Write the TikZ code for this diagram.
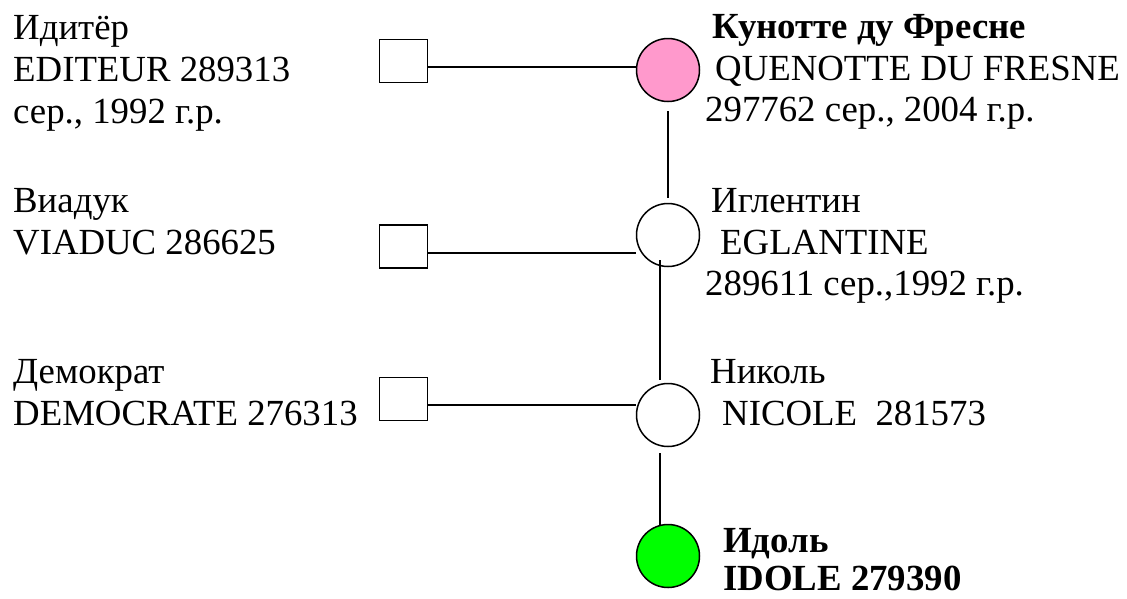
\documentclass[tikz,border=0pt]{standalone}
\usepackage{fontspec}
\setmainfont{Liberation Serif}
\definecolor{pinkfill}{HTML}{FF99CC}
\definecolor{greenfill}{HTML}{00FF00}
\begin{document}
\begin{tikzpicture}[x=1pt,y=-1pt,
  lbl/.style={anchor=base west,inner sep=0pt,font=\fontsize{36.8}{42}\selectfont},
  blbl/.style={lbl,font=\fontsize{36.8}{42}\selectfont\bfseries},
  male/.style={draw,line width=1.5pt,minimum width=48pt,minimum height=43pt,inner sep=0pt},
  female/.style={draw,circle,line width=1.5pt,minimum size=63pt,inner sep=0pt},
  link/.style={line width=1.5pt}]
\useasboundingbox (0,0) rectangle (1127,598);
% squares
\node[male] (s1) at (403.5,61) {};
\node[male] (s2) at (403.5,246.5) {};
\node[male] (s3) at (403.5,399) {};
% circles
\node[female,fill=pinkfill] (c1) at (668,70) {};
\node[female] (c2) at (668,235) {};
\node[female] (c3) at (668,415) {};
\node[female,fill=greenfill] (c4) at (668,556) {};
% horizontal links
\draw[link] ([yshift=-6pt]s1.east) -- ([yshift=-6pt]s1.east -| c1.west);
\draw[link] ([yshift=-6.5pt]s2.east) -- ([yshift=-6.5pt]s2.east -| c2.west);
\draw[link] ([yshift=-6pt]s3.east) -- ([yshift=-6pt]s3.east -| c3.west);
% vertical links
\draw[link] ([yshift=-9pt]c1.south) -- ([yshift=5pt]c2.north);
\draw[link] ([shift={(-8,25)}]c2.center) -- ([shift={(-8,-35)}]c3.center);
\draw[link] ([shift={(-8,38)}]c3.center) -- ([shift={(-8,-31)}]c4.center);
% left texts
\node[lbl] (t1a) at (13,39) {Идитёр};
\node[lbl] (t1b) at (13,81) {EDITEUR 289313};
\node[lbl] (t1c) at (13,123) {сер., 1992 г.р.};
\node[lbl] (t2a) at (13,212) {Виадук};
\node[lbl] (t2b) at (13,254) {VIADUC 286625};
\node[lbl] (t3a) at (13,383) {Демократ};
\node[lbl] (t3b) at (13,425) {DEMOCRATE 276313};
% right texts
\node[blbl] (r1a) at (712,38) {Кунотте ду Фресне};
\node[lbl] (r1b) at (715,80) {QUENOTTE DU FRESNE};
\node[lbl] (r1c) at (705,121) {297762 сер., 2004 г.р.};
\node[lbl] (r2a) at (711,212) {Иглентин};
\node[lbl] (r2b) at (720,254) {EGLANTINE};
\node[lbl] (r2c) at (705,295) {289611 сер.,1992 г.р.};
\node[lbl] (r3a) at (710,383) {Николь};
\node[lbl] (r3b) at (722,425) {NICOLE\ \ 281573};
\node[blbl] (r4a) at (723,552) {Идоль};
\node[blbl] (r4b) at (723,590) {IDOLE 279390};
\end{tikzpicture}
\end{document}
